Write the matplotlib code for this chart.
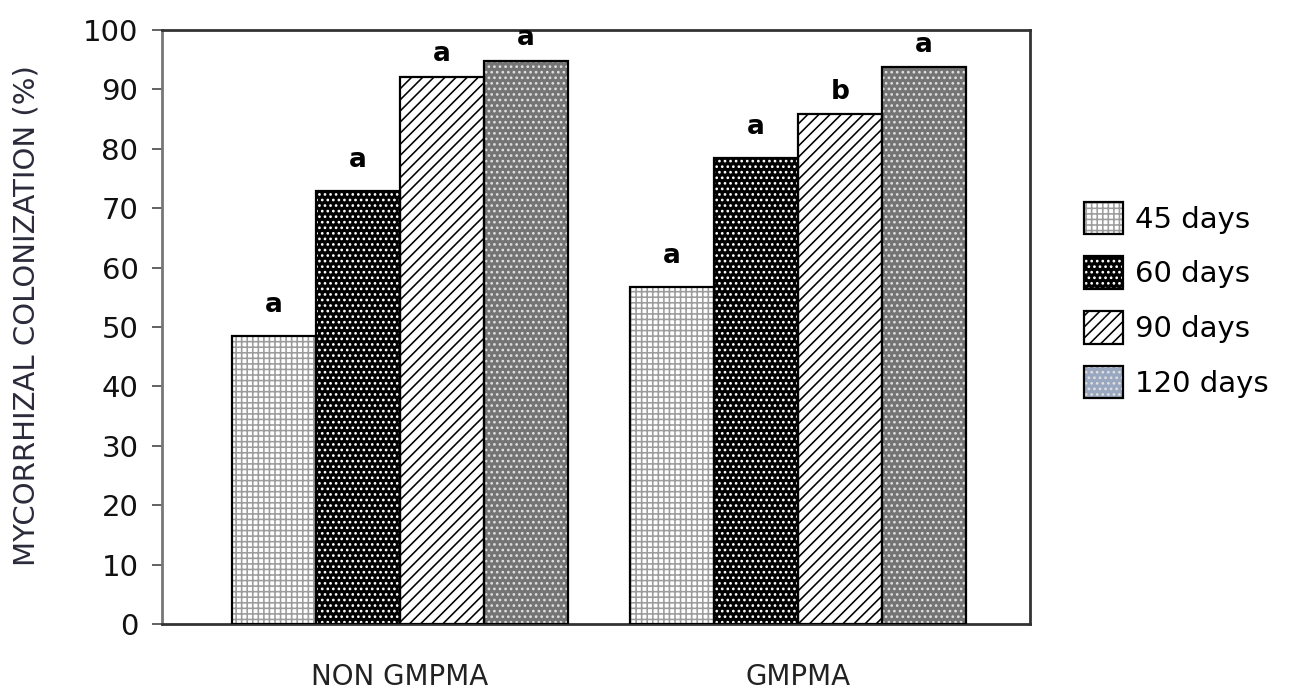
#!/usr/bin/env python3
"""Mycorrhizal colonization per treatment and harvest date, hatched bars."""
import numpy as np
import matplotlib
matplotlib.use("Agg")
import matplotlib.pyplot as plt
from matplotlib.patches import Patch
from matplotlib.legend_handler import HandlerTuple

groups = ["NON GMPMA", "GMPMA"]
series = ["45 days", "60 days", "90 days", "120 days"]
values = [
    [48.5, 56.8],   # 45 days
    [72.9, 78.5],   # 60 days
    [92.1, 85.8],   # 90 days
    [94.8, 93.7],   # 120 days
]
letters = [
    ["a", "a"],
    ["a", "a"],
    ["a", "b"],
    ["a", "a"],
]
yticks = list(range(0, 101, 10))

# face, hatch, hatch colour (legend face for the last one is bluish in the source)
styles = [
    ("#ffffff", "+++", "#9c9c9c"),
    ("#000000", "...", "#ffffff"),
    ("#ffffff", "///", "#000000"),
    ("#747474", "...", "#e0e0e0"),
]
legend_faces = ["#ffffff", "#000000", "#ffffff", "#9aa7c0"]

plt.rcParams["font.family"] = ["DejaVu Sans"]
plt.rcParams["hatch.linewidth"] = 1.15

fig = plt.figure(figsize=(12.89, 6.93), dpi=100)
ax = fig.add_axes([162 / 1289, 1 - 624 / 693, 868 / 1289, 594 / 693])

x = np.arange(len(groups))
w = 0.211
offs = (np.arange(len(series)) - 1.5) * w
for i, s in enumerate(series):
    face, hatch, hc = styles[i]
    ax.bar(x + offs[i], values[i], w, color=face, hatch=hatch,
           edgecolor=hc, linewidth=0, zorder=2)
    ax.bar(x + offs[i], values[i], w, fill=False, edgecolor="black",
           linewidth=1.6, zorder=3)
    for j, v in enumerate(values[i]):
        dy = 3.0 if v < 80 else 1.6
        ax.text(x[j] + offs[i], v + dy, letters[i][j], ha="center",
                va="bottom", fontsize=19, fontweight="bold", color="black")

ax.set_xlim(-0.598, 1.583)
ax.set_ylim(0, 100)
ax.set_yticks(yticks)
ax.set_yticklabels([str(t) for t in yticks], fontsize=21, color="#111111")
ax.set_xticks(x)
ax.set_xticklabels(groups, fontsize=20, color="#222222")
ax.tick_params(axis="x", length=0, pad=28)
ax.tick_params(axis="y", direction="out", length=7, width=1.3,
               color="#555555", pad=10)

for side in ["top", "right", "bottom"]:
    ax.spines[side].set_color("#333333")
    ax.spines[side].set_linewidth(2)
ax.spines["left"].set_color("#777777")
ax.spines["left"].set_linewidth(2)

ax.set_ylabel("MYCORRHIZAL COLONIZATION (%)", fontsize=21, color="#2a2a3a")
ax.yaxis.set_label_coords(-0.1405, 0.52)

handles = []
for i in range(len(series)):
    face, hatch, hc = styles[i]
    p1 = Patch(facecolor=legend_faces[i], hatch=hatch, edgecolor=hc, linewidth=0)
    p2 = Patch(fill=False, edgecolor="black", linewidth=1.6)
    handles.append((p1, p2))
fig.legend(handles, series, handler_map={tuple: HandlerTuple(ndivide=1, pad=0)},
           loc="upper left", bbox_to_anchor=(1072 / 1289, 1 - 190 / 693),
           frameon=False, fontsize=21, handlelength=1.35, handleheight=1.35,
           handletextpad=0.4, labelspacing=0.75, borderaxespad=0)

fig.savefig("out.png", dpi=100)
